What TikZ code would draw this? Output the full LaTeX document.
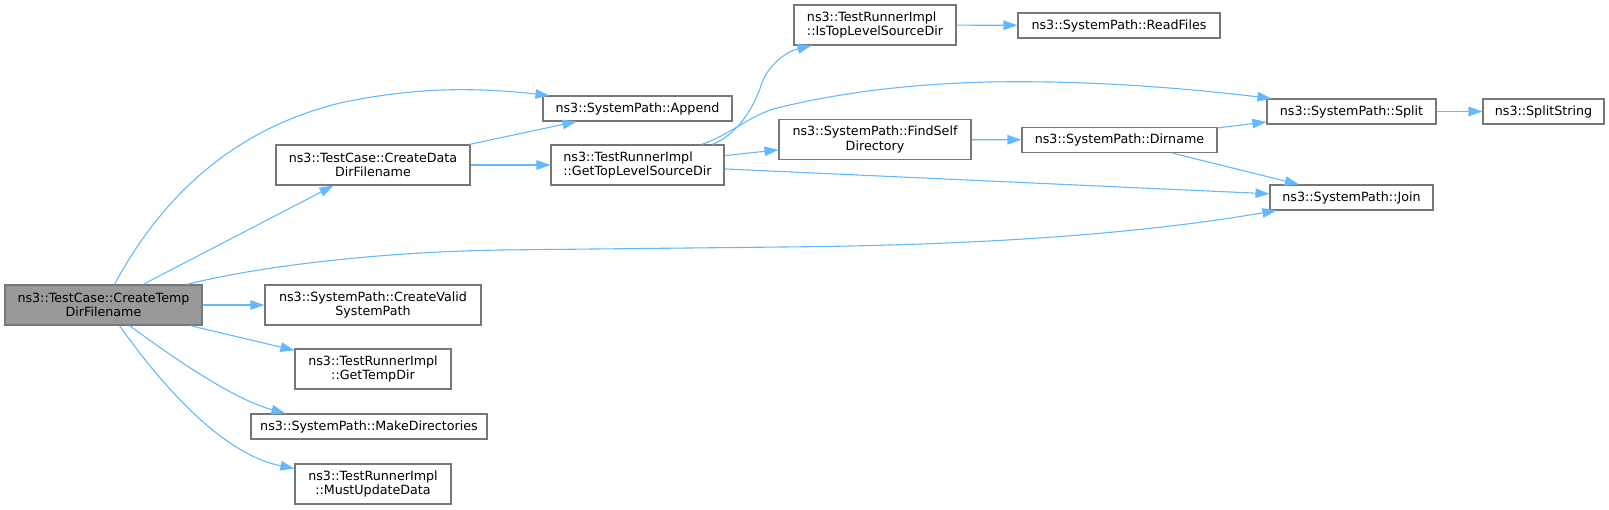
\documentclass[tikz,border=0pt]{standalone}
\usepackage{fontspec}
\setmainfont{DejaVu Sans}
\usetikzlibrary{arrows.meta,calc}
\definecolor{edgeblue}{HTML}{63B8FF}
\definecolor{boxgray}{HTML}{777777}
\definecolor{mainfill}{HTML}{999999}
\begin{document}
\begin{tikzpicture}[x=1pt,y=-1pt,
  box/.style={draw=boxgray,line width=1.1pt,fill=white,inner sep=0pt,align=center,
    font=\fontsize{12.7}{14.5}\selectfont},
  edge/.style={draw=edgeblue,line width=1.1pt,-{Triangle[length=14pt,width=9.5pt]}}]
\useasboundingbox (0,0) rectangle (1609,509);
% column 1
\node[box,fill=mainfill,minimum width=197pt,minimum height=40pt] (main) at (103.5,305) {ns3::TestCase::CreateTemp\\DirFilename};
% column 2
\node[box,minimum width=194pt,minimum height=40pt] (cdd) at (373,165) {ns3::TestCase::CreateData\\DirFilename};
\node[box,minimum width=216pt,minimum height=40pt] (cvsp) at (373,305) {ns3::SystemPath::CreateValid\\SystemPath};
\node[box,minimum width=156pt,minimum height=40pt] (gtd) at (373,369) {ns3::TestRunnerImpl\\::GetTempDir};
\node[box,minimum width=236pt,minimum height=25pt] (mkd) at (369,426.5) {ns3::SystemPath::MakeDirectories};
\node[box,minimum width=156pt,minimum height=40pt] (mud) at (373,484) {ns3::TestRunnerImpl\\::MustUpdateData};
% column 3
\node[box,minimum width=189pt,minimum height=25pt] (app) at (637.5,108.5) {ns3::SystemPath::Append};
\node[box,align=left,minimum width=173pt,minimum height=40pt] (gtl) at (637.5,165) {ns3::TestRunnerImpl\\::GetTopLevelSourceDir};
% column 4
\node[box,align=left,minimum width=162pt,minimum height=40pt] (itl) at (875,25) {ns3::TestRunnerImpl\\::IsTopLevelSourceDir};
\node[box,minimum width=192pt,minimum height=40pt] (fsd) at (875,139.5) {ns3::SystemPath::FindSelf\\Directory};
% column 5
\node[box,minimum width=202pt,minimum height=25pt] (rf) at (1119,25.5) {ns3::SystemPath::ReadFiles};
\node[box,minimum width=195pt,minimum height=25pt] (dn) at (1119.5,140) {ns3::SystemPath::Dirname};
% column 6
\node[box,minimum width=169pt,minimum height=25pt] (spl) at (1351.5,111.5) {ns3::SystemPath::Split};
\node[box,minimum width=163pt,minimum height=25pt] (join) at (1351.5,197.5) {ns3::SystemPath::Join};
% column 7
\node[box,minimum width=121pt,minimum height=25pt] (ss) at (1543.5,111.5) {ns3::SplitString};
% straight edges
\draw[edge] (main) -- (cdd);
\draw[edge] (main) -- (cvsp);
\draw[edge] (main) -- (gtd);
\draw[edge] (cdd) -- (app);
\draw[edge] (cdd) -- (gtl);
\draw[edge] (gtl) -- (fsd);
\draw[edge] (gtl) -- (join);
\draw[edge] (itl) -- (rf);
\draw[edge] (fsd) -- (dn);
\draw[edge] (dn) -- (spl);
\draw[edge] (dn) -- (join);
\draw[edge] (spl) -- (ss);
% curved edges
\draw[edge] ($(main.north west)+(110,0)$) .. controls (160,200) and (230,130) .. (340,103)
  .. controls (420,86) and (480,88) .. ($(app.north west)+(7,0)$);
\draw[edge] ($(main.north west)+(182,0)$) .. controls (260,266) and (380,252) .. (500,250)
  -- (783,247) .. controls (1000,245) and (1150,232) .. ($(join.south west)+(7,0)$);
\draw[edge] ($(main.south west)+(125,0)$) .. controls (170,355) and (230,398) .. ($(mkd.north west)+(35,0)$);
\draw[edge] ($(main.south west)+(115,0)$) .. controls (165,390) and (225,455) .. ($(mud.north west)+(0,5)$);
\draw[edge] ($(gtl.north west)+(162,0)$) .. controls (740,133) and (755,105) .. (763,80)
  .. controls (770,65) and (785,52) .. ($(itl.south west)+(18,0)$);
\draw[edge] ($(gtl.north west)+(151,0)$) .. controls (730,135) and (750,115) .. (777,108)
  .. controls (830,95) and (900,84) .. (990,82) .. controls (1100,80) and (1200,90) .. ($(spl.north west)+(5,0)$);
\end{tikzpicture}
\end{document}
